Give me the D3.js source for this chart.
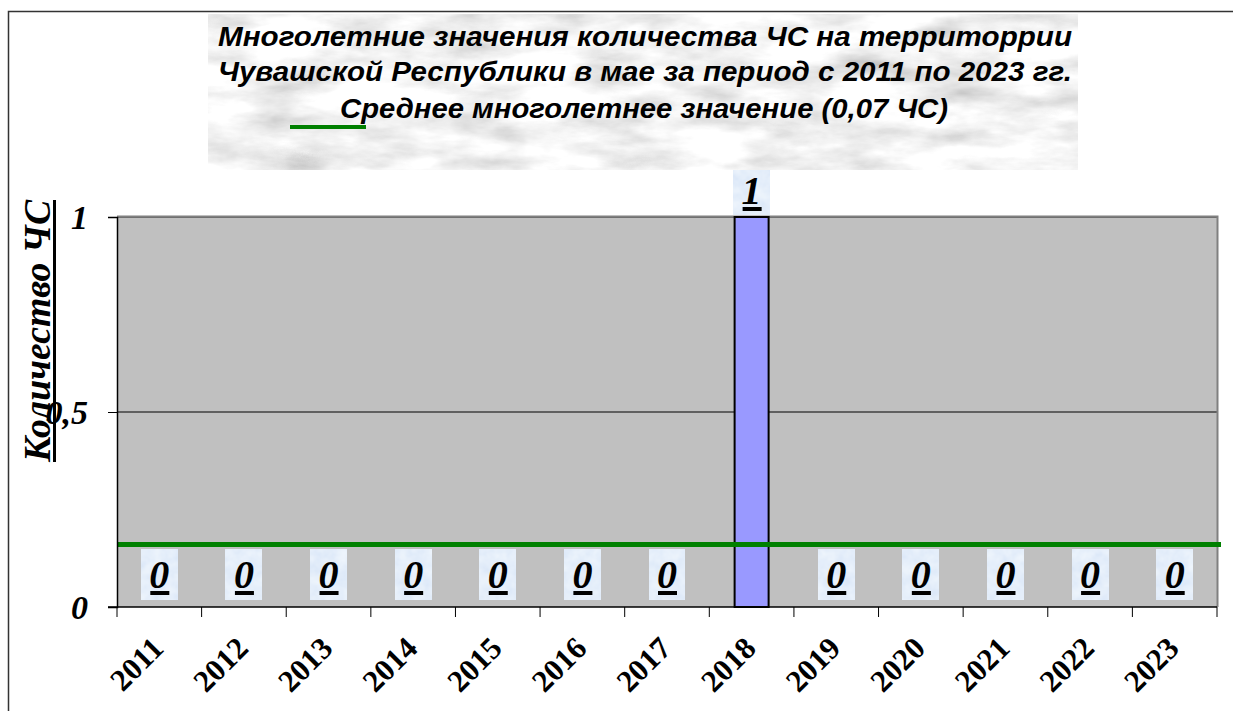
<!DOCTYPE html>
<html><head><meta charset="utf-8">
<script src="https://cdn.jsdelivr.net/npm/d3@7"></script>
<style>body{margin:0;background:#fff;}svg{display:block;}</style>
</head><body>
<svg id="c" width="1233" height="711"></svg>
<script>
const years = ["2011","2012","2013","2014","2015","2016","2017","2018","2019","2020","2021","2022","2023"];
const counts = [0,0,0,0,0,0,0,1,0,0,0,0,0];
const avgLineValue = 0.16; // drawn position of the average line as seen in the picture
const yTicks = [0, 0.5, 1];
const yTickLabels = ["0", "0,5", "1"];
const titleLines = ["Многолетние значения количества ЧС на территоррии",
                    "Чувашской Республики в мае за период с 2011 по 2023 гг.",
                    "Среднее многолетнее значение (0,07 ЧС)"];
const yTitle = "Количество ЧС";

const svg = d3.select("#c");
const defs = svg.append("defs");

const f = defs.append("filter").attr("id","marble").attr("x",0).attr("y",0).attr("width","100%").attr("height","100%");
f.append("feTurbulence").attr("type","fractalNoise").attr("baseFrequency","0.012 0.035").attr("numOctaves",5).attr("seed",3).attr("result","n");
f.append("feColorMatrix").attr("in","n").attr("type","matrix")
 .attr("values","0.7 0.4 0 0 0.36  0.7 0.4 0 0 0.36  0.7 0.4 0 0 0.36  0 0 0 0 1");
const f2 = defs.append("filter").attr("id","bluetex").attr("x",0).attr("y",0).attr("width","100%").attr("height","100%");
f2.append("feTurbulence").attr("type","fractalNoise").attr("baseFrequency","0.08").attr("numOctaves",3).attr("seed",5).attr("result","n");
f2.append("feColorMatrix").attr("in","n").attr("type","matrix")
 .attr("values","0.2 0 0 0 0.68  0.15 0 0 0 0.78  0.05 0 0 0 0.93  0 0 0 0 1");

svg.append("rect").attr("x",8.5).attr("y",11.5).attr("width",1240).attr("height",720)
  .attr("fill","none").attr("stroke","#333").attr("stroke-width",1.5);

svg.append("rect").attr("x",208).attr("y",14).attr("width",870).attr("height",156).attr("filter","url(#marble)");
const tl = [{x:645,y:46,w:854},{x:645,y:81,w:854},{x:644,y:118,w:608}];
titleLines.forEach((t,i)=>{
  svg.append("text").attr("x",tl[i].x).attr("y",tl[i].y).attr("text-anchor","middle")
    .attr("font-family","Liberation Sans, Arial, sans-serif").attr("font-weight","bold").attr("font-style","italic")
    .attr("font-size",27).attr("textLength",tl[i].w).attr("lengthAdjust","spacingAndGlyphs").attr("fill","#000").text(t);
});
svg.append("line").attr("x1",290).attr("x2",366).attr("y1",127).attr("y2",127).attr("stroke","#008000").attr("stroke-width",4);

const m = {l:117, r:1217, t:217, b:607};
const x = d3.scaleBand().domain(years).range([m.l,m.r]);
const y = d3.scaleLinear().domain([0,1]).range([m.b,m.t]);

svg.append("rect").attr("x",m.l).attr("y",m.t).attr("width",m.r-m.l).attr("height",m.b-m.t).attr("fill","#C0C0C0");
svg.selectAll("line.grid").data(yTicks.filter(d=>d>0)).enter().append("line")
  .attr("x1",m.l).attr("x2",m.r).attr("y1",d=>y(d)).attr("y2",d=>y(d)).attr("stroke","#000").attr("stroke-width",1);
svg.append("path").attr("d",`M${m.l},${m.t-0.5}H${m.r+0.5}V${m.b}`).attr("fill","none").attr("stroke","#808080").attr("stroke-width",2);

const bw = 34;
svg.selectAll("rect.bar").data(years).enter().append("rect")
  .attr("x",d=>x(d)+x.bandwidth()/2-bw/2).attr("width",bw)
  .attr("y",(d,i)=>y(counts[i])).attr("height",(d,i)=>y(0)-y(counts[i]))
  .attr("fill","#9999FF").attr("stroke","#000").attr("stroke-width",2)
  .attr("display",(d,i)=>counts[i]>0?null:"none");

svg.append("line").attr("x1",m.l).attr("x2",1221).attr("y1",y(avgLineValue)).attr("y2",y(avgLineValue))
  .attr("stroke","#008000").attr("stroke-width",5);

const yAxis = d3.axisLeft(y).tickValues(yTicks).tickFormat((d,i)=>yTickLabels[i]).tickSize(9).tickPadding(20);
const gy = svg.append("g").attr("transform",`translate(${m.l},0)`).call(yAxis);
gy.select(".domain").attr("stroke","#000").attr("stroke-width",1.5);
gy.selectAll(".tick line").attr("stroke","#000");
gy.selectAll("text").attr("font-family","Liberation Serif, Times New Roman, serif").attr("font-weight","bold")
  .attr("font-style","italic").attr("font-size",34).attr("fill","#000").attr("dy","0.33em");

svg.append("line").attr("x1",m.l-9).attr("x2",m.r).attr("y1",m.b).attr("y2",m.b).attr("stroke","#000").attr("stroke-width",1.5);
const bounds = years.map(d=>x(d)).concat([m.r]);
svg.selectAll("line.xt").data(bounds).enter().append("line")
  .attr("x1",d=>d).attr("x2",d=>d).attr("y1",m.b).attr("y2",m.b+10).attr("stroke","#000").attr("stroke-width",1);
svg.selectAll("text.xl").data(years).enter().append("text")
  .attr("transform",d=>`translate(${x(d)+x.bandwidth()/2+6},${m.b+43}) rotate(-45)`)
  .attr("text-anchor","end")
  .attr("font-family","Liberation Serif, Times New Roman, serif").attr("font-weight","bold").attr("font-size",31)
  .attr("fill","#000").text(d=>d);

const lw = 36;
years.forEach((d,i)=>{
  const cx = x(d)+x.bandwidth()/2;
  const top = counts[i]>0 ? y(counts[i])-47 : 549;
  const h = counts[i]>0 ? 45 : 51;
  svg.append("rect").attr("x",cx-lw/2).attr("y",top).attr("width",lw).attr("height",h).attr("filter","url(#bluetex)");
  const by = top + (counts[i]>0?34:39);
  svg.append("text").attr("x",cx).attr("y",by).attr("text-anchor","middle")
    .attr("font-family","Liberation Serif, Times New Roman, serif").attr("font-weight","bold").attr("font-style","italic")
    .attr("font-size",40).attr("fill","#000").text(counts[i]);
  svg.append("rect").attr("x",cx-9).attr("y",by+3).attr("width",19).attr("height",4).attr("fill","#000");
});

svg.append("text").attr("transform","translate(50,331) rotate(-90)").attr("text-anchor","middle")
  .attr("font-family","Liberation Serif, Times New Roman, serif").attr("font-weight","bold").attr("font-style","italic")
  .attr("font-size",38).attr("textLength",262).attr("lengthAdjust","spacingAndGlyphs")
  .attr("fill","#000").text(yTitle);
svg.append("rect").attr("x",53).attr("y",200).attr("width",3).attr("height",262).attr("fill","#000");
</script>
</body></html>
